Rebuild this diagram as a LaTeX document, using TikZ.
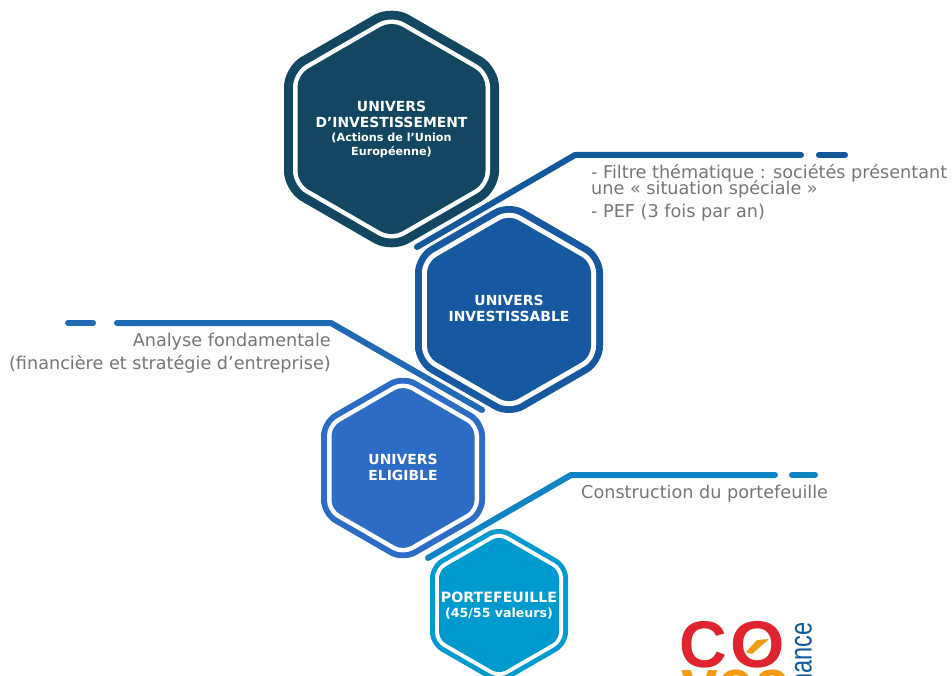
\documentclass[tikz,border=0pt]{standalone}
\usepackage{fontspec}
\setmainfont{DejaVu Sans}
\newfontfamily\logofont{Liberation Sans}
\definecolor{hexa}{HTML}{134660}
\definecolor{hexb}{HTML}{1759A0}
\definecolor{hexc}{HTML}{2D6CC5}
\definecolor{hexd}{HTML}{009ACE}
\definecolor{linea}{HTML}{11599A}
\definecolor{lineb}{HTML}{1F69B5}
\definecolor{linec}{HTML}{0F84C4}
\definecolor{txtgray}{HTML}{767676}
\definecolor{logored}{HTML}{E0242F}
\definecolor{logoorange}{HTML}{F39C12}
\definecolor{logoblue}{HTML}{0F5A9C}
\newcommand{\hexshape}[6]{%
  \path[#6,rounded corners=#5pt]
    (#1,#2+#4) -- (#1+#3,#2+#4*0.5) -- (#1+#3,#2-#4*0.5) -- (#1,#2-#4)
    -- (#1-#3,#2-#4*0.5) -- (#1-#3,#2+#4*0.5) -- cycle;}
\newcommand{\hexring}[6]{%
  \pgfmathsetmacro{\rA}{#3/0.866}%
  \pgfmathsetmacro{\wB}{#3-#4}\pgfmathsetmacro{\rB}{\wB/0.866}%
  \pgfmathsetmacro{\wC}{#3-#4-#5}\pgfmathsetmacro{\rC}{\wC/0.866}%
  \pgfmathsetmacro{\cA}{\rA*0.16}\pgfmathsetmacro{\cB}{\rB*0.13}\pgfmathsetmacro{\cC}{\rC*0.11}%
  \hexshape{#1}{#2}{#3}{\rA}{\cA}{fill=#6}%
  \hexshape{#1}{#2}{\wB}{\rB}{\cB}{fill=white}%
  \hexshape{#1}{#2}{\wC}{\rC}{\cC}{fill=#6}}
\tikzset{
  x=1pt,y=1pt,
  leader/.style={line width=6pt,line cap=round,line join=round},
  hextitle/.style={text=white,font=\bfseries\fontsize{13.9}{16}\selectfont,align=center,inner sep=0pt},
  hexsub/.style={text=white,font=\bfseries\fontsize{11.2}{14}\selectfont,align=center,inner sep=0pt},
  note/.style={text=txtgray,font=\fontsize{17.65}{16}\selectfont,inner sep=0pt},
  logotxt/.style={font=\logofont\bfseries\fontsize{66}{66}\selectfont,inner sep=0pt,anchor=base west},
}
\begin{document}
\begin{tikzpicture}
\useasboundingbox (0,0) rectangle (952,-676);
\clip (0,0) rectangle (952,-676);
\hexring{391.5}{-129}{107.5}{9}{4.5}{hexa}
\hexring{509}{-309.5}{94}{7}{5}{hexb}
\hexring{403}{-468}{82}{6}{4.5}{hexc}
\hexring{499}{-605}{69}{5}{4}{hexd}

\coordinate (aS) at (417,-247); \coordinate (aK) at (575,-155); \coordinate (aE) at (801,-155);
\coordinate (aD) at (819,-155); \coordinate (aF) at (845,-155);
\coordinate (bS) at (117,-323); \coordinate (bK) at (331,-323); \coordinate (bE) at (482,-410);
\coordinate (bD) at (68,-323); \coordinate (bF) at (93,-323);
\coordinate (cS) at (428,-558); \coordinate (cK) at (571,-475); \coordinate (cE) at (775,-475);
\coordinate (cD) at (792,-475); \coordinate (cF) at (815,-475);
\draw[leader,linea] (aS) -- (aK) -- (aE);
\draw[leader,linea] (aD) -- (aF);
\draw[leader,lineb] (bS) -- (bK) -- (bE);
\draw[leader,lineb] (bD) -- (bF);
\draw[leader,linec] (cS) -- (cK) -- (cE);
\draw[leader,linec] (cD) -- (cF);

\node[hextitle] (t1) at (391.5,-114) {UNIVERS\\D’INVESTISSEMENT};
\node[hexsub] (t1b) at (391.5,-145) {(Actions de l’Union\\Européenne)};
\node[hextitle] (t2) at (509,-308) {UNIVERS\\INVESTISSABLE};
\node[hextitle] (t3) at (403,-467) {UNIVERS\\ELIGIBLE};
\node[hextitle,font=\bfseries\fontsize{14.2}{16}\selectfont] (t4) at (499,-597.5) {PORTEFEUILLE};
\node[hexsub,font=\bfseries\fontsize{12.6}{14}\selectfont] (t4b) at (499,-613.5) {(45/55 valeurs)};

\node[note,anchor=base west] (n1) at (591,-179) {- Filtre thématique : sociétés présentant};
\node[note,anchor=base west] (n2) at (591,-195) {une « situation spéciale »};
\node[note,anchor=base west] (n3) at (591,-218) {- PEF (3 fois par an)};
\node[note,anchor=base east] (n4) at (331,-346) {Analyse fondamentale};
\node[note,anchor=base east] (n5) at (331,-369) {(financière et stratégie d’entreprise)};
\node[note,anchor=base west] (n6) at (581,-498) {Construction du portefeuille};

\node[logotxt,text=logored] (logoa) at (679,-667) {C};
\node[logotxt,text=logored] (logoo) at (730,-667) {\scalebox{1.06}[1]{O}};
\fill[logoorange] (746,-652) -- (757,-640) -- (769,-639) -- (752,-654) -- cycle;
\node[logotxt,text=logoorange] (logob) at (681,-705) {vea};
\node[text=logoblue,font=\logofont\fontsize{31}{31}\selectfont,inner sep=0pt,anchor=base east,rotate=90] (logoc) at (811.5,-622) {\scalebox{0.76}[1]{Finance}};
\end{tikzpicture}
\end{document}
